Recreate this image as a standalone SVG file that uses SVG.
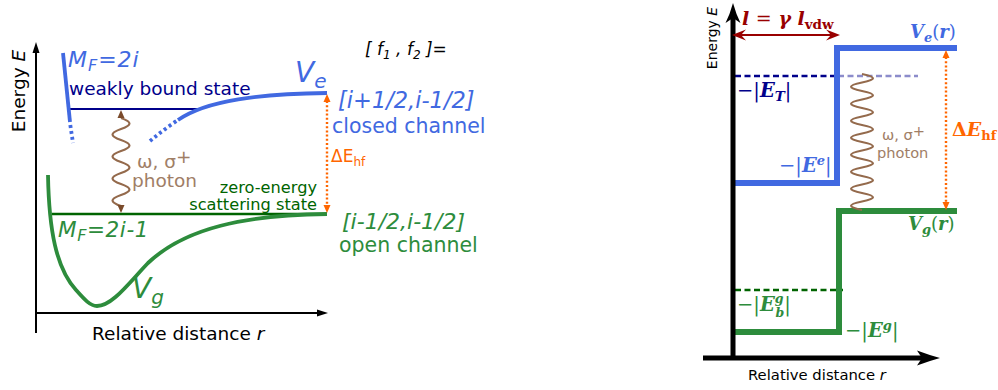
<svg xmlns="http://www.w3.org/2000/svg" width="998" height="390" viewBox="0 0 998 390">
<style>
.sans{font-family:"DejaVu Sans","Liberation Sans",sans-serif}
.serif{font-family:"DejaVu Serif","Liberation Serif",serif}
.it{font-style:italic}
.bi{font-style:italic;font-weight:bold}
.b{font-weight:bold}
.n{font-weight:normal;font-style:normal}
.royal{fill:#4169E1}
.navy{fill:#00008B}
.grn{fill:#2D8C3C}
.dgrn{fill:#006400}
.org{fill:#FF6600}
.brn{fill:#A07E66}
.dred{fill:#990000}
.line{fill:none;stroke-linecap:butt;stroke-linejoin:miter}
.dots{stroke-dasharray:3 3}
.dash{stroke-dasharray:6 3.5}
.odots{fill:none;stroke:#FF6600;stroke-width:2.4;stroke-dasharray:2 2.2}
.wave{fill:none;stroke:#946A4C;stroke-width:2.2}
</style>

<!-- LEFT PANEL -->
<g id="left-axes">
  <line x1="36" y1="333" x2="36" y2="50" stroke="#000" stroke-width="2"/>
  <polygon points="36,42 32.5,53 39.5,53" fill="#000"/>
  <line x1="35" y1="313" x2="320" y2="313" stroke="#000" stroke-width="2"/>
  <polygon points="328,313 317,309.5 317,316.5" fill="#000"/>
  <text class="sans" font-size="18.5" transform="translate(25,91) rotate(-90)" text-anchor="middle">Energy <tspan class="it">E</tspan></text>
  <text class="sans" font-size="18.5" x="92" y="340">Relative distance <tspan class="it">r</tspan></text>
</g>

<g id="weakly-bound-state">
  <line x1="70" y1="109" x2="202" y2="109" stroke="#00008B" stroke-width="2.2"/>
  <text class="sans navy" font-size="18.5" x="69" y="95">weakly bound state</text>
</g>

<g id="closed-channel-potential">
  <path class="line" d="M63,53 L70,122" stroke="#4169E1" stroke-width="3.8"/>
  <path class="line dots" d="M70.3,125 L73,143" stroke="#4169E1" stroke-width="3.8"/>
  <path class="line dots" d="M150,141 Q163,130 178,120" stroke="#4169E1" stroke-width="3.8"/>
  <path class="line" d="M178,120 C207,100 260,94 327,93" stroke="#4169E1" stroke-width="3.8"/>
  <text class="sans it royal" font-size="22" letter-spacing="1" x="68" y="67">M<tspan font-size="16" dy="4">F</tspan><tspan dy="-4">=2i</tspan></text>
  <text class="sans it royal" font-size="28" x="295" y="82">V<tspan font-size="20" dy="6">e</tspan></text>
</g>

<g id="open-channel-potential">
  <line x1="52" y1="214" x2="327" y2="214" stroke="#006400" stroke-width="2.6"/>
  <path class="line" d="M48,175 C49,230 56,268 76,290 C84,299 90,306 97,306 C112,306 128,284 148,263 C185,228 245,215 327,214" stroke="#2D8C3C" stroke-width="3.8"/>
  <text class="sans it grn" font-size="21.5" letter-spacing="0.6" x="58" y="237">M<tspan font-size="16" dy="4">F</tspan><tspan dy="-4">=2i-1</tspan></text>
  <text class="sans it grn" font-size="28" x="132" y="298">V<tspan font-size="20" dy="6">g</tspan></text>
  <text class="sans dgrn" font-size="16.2" x="317" y="192.5" text-anchor="end">zero-energy</text>
  <text class="sans dgrn" font-size="16.2" x="317" y="210" text-anchor="end">scattering state</text>
</g>

<g id="channel-labels">
  <text class="sans it" font-size="17" x="365" y="55">[ f<tspan font-size="12" dy="4">1</tspan><tspan dy="-4"> , f</tspan><tspan font-size="12" dy="4">2</tspan><tspan dy="-4"> ]=</tspan></text>
  <text class="sans it royal" font-size="22.5" x="338" y="108">[i+1/2,i-1/2]</text>
  <text class="sans royal" font-size="20.5" x="332" y="133">closed channel</text>
  <text class="sans it grn" font-size="22" x="342" y="229">[i-1/2,i-1/2]</text>
  <text class="sans grn" font-size="20.5" x="339" y="252">open channel</text>
  <text class="sans org" font-size="17" x="331" y="162">ΔE<tspan font-size="12" dy="4">hf</tspan></text>
  <text class="sans brn" font-size="18.5" x="137" y="168">ω, σ<tspan dy="-5">+</tspan></text>
  <text class="sans brn" font-size="18.5" x="132" y="187">photon</text>
</g>

<!-- RIGHT PANEL -->
<g id="right-levels">
  <line class="dash" x1="735" y1="76" x2="837" y2="76" stroke="#00008B" stroke-width="2.4"/>
  <line class="dash" x1="838" y1="76" x2="918" y2="76" stroke="#00008B" stroke-opacity="0.45" stroke-width="2.4"/>
  <line class="dash" x1="735" y1="290" x2="843" y2="290" stroke="#006400" stroke-width="2.4"/>
</g>

<g id="closed-step-potential">
  <polyline class="line" points="733,183 837,183 837,48 957,48" stroke="#4169E1" stroke-width="6"/>
  <text class="serif bi royal" font-size="18" x="910" y="38">V<tspan font-size="13" dy="4">e</tspan><tspan dy="-4" class="n">(</tspan>r<tspan class="n">)</tspan></text>
  <text class="serif bi royal" font-size="19.5" x="779" y="172"><tspan class="n">−|</tspan>E<tspan font-size="13" dy="-7">e</tspan><tspan dy="7" class="n">|</tspan></text>
</g>

<g id="open-step-potential">
  <polyline class="line" points="733,332 839,332 839,211 957,211" stroke="#2D8C3C" stroke-width="6"/>
  <text class="serif bi grn" font-size="18" x="908" y="230">V<tspan font-size="13" dy="4">g</tspan><tspan dy="-4" class="n">(</tspan>r<tspan class="n">)</tspan></text>
  <text class="serif bi grn" font-size="19.5" x="737" y="311"><tspan class="n">−|</tspan>E<tspan font-size="12.5" dy="-8">g</tspan><tspan font-size="12.5" dx="-8" dy="14">b</tspan><tspan dy="-6" class="n">|</tspan></text>
  <text class="serif bi grn" font-size="19.5" x="845" y="337"><tspan class="n">−|</tspan>E<tspan font-size="13" dy="-7">g</tspan><tspan dy="7" class="n">|</tspan></text>
</g>

<g id="threshold-label">
  <text class="serif bi navy" font-size="19.5" x="737" y="97"><tspan class="n">−|</tspan>E<tspan font-size="13.5" dy="4">T</tspan><tspan dy="-4" class="n">|</tspan></text>
</g>

<g id="right-axes">
  <line x1="733" y1="356" x2="733" y2="16" stroke="#000" stroke-width="5"/>
  <path d="M733,3 Q736,14 740.5,23 L733,18 L725.5,23 Q730,14 733,3 Z" fill="#000"/>
  <line x1="703" y1="358" x2="925" y2="358" stroke="#000" stroke-width="5"/>
  <path d="M940,358 Q929,361 917,365.5 L922,358 L917,350.5 Q929,355 940,358 Z" fill="#000"/>
  <text class="sans" font-size="14" transform="translate(717,38) rotate(-90)" text-anchor="middle">Energy <tspan class="it">E</tspan></text>
  <text class="sans" font-size="14.8" x="748" y="380">Relative distance <tspan class="it">r</tspan></text>
</g>

<g id="length-label">
  <text class="serif bi dred" font-size="19" x="742" y="25">l <tspan class="n">=</tspan> γ l<tspan font-size="13.5" dy="4" font-style="normal">vdw</tspan></text>
</g>

<g id="right-photon-label">
  <text class="sans brn" font-size="14.6" x="882" y="140">ω, σ<tspan dy="-4">+</tspan></text>
  <text class="sans brn" font-size="14.6" x="877" y="158">photon</text>
</g>

<g id="right-hyperfine-label">
  <text class="serif b org" font-size="19" x="952" y="136">Δ<tspan class="bi">E</tspan><tspan font-size="13" dy="4">hf</tspan></text>
</g>

<g id="connectors">
  <path class="wave" d="M121,118 c11.3,4 11.3,7 0,11 c-11.3,4 -11.3,7 0,11 c11.3,4 11.3,7 0,11 c-11.3,4 -11.3,7 0,11 c11.3,4 11.3,7 0,11 c-11.3,4 -11.3,7 0,11 c11.3,4 11.3,7 0,11 c-11.3,4 -11.3,7 0,11"/>
  <polygon points="121,110 117.5,118 124.5,118" fill="#7A4A2A"/>
  <polygon points="121,213 117.5,205 124.5,205" fill="#7A4A2A"/>
  <line class="odots" x1="327" y1="101" x2="327" y2="206"/>
  <polygon points="327,94 323.5,102 330.5,102" fill="#FF6600"/>
  <polygon points="327,213 323.5,205 330.5,205" fill="#FF6600"/>
  <path class="wave" d="M862,74 c14.6,3.06 14.6,5.44 0,8.5 c-14.6,3.06 -14.6,5.44 0,8.5 c14.6,3.06 14.6,5.44 0,8.5 c-14.6,3.06 -14.6,5.44 0,8.5 c14.6,3.06 14.6,5.44 0,8.5 c-14.6,3.06 -14.6,5.44 0,8.5 c14.6,3.06 14.6,5.44 0,8.5 c-14.6,3.06 -14.6,5.44 0,8.5 c14.6,3.06 14.6,5.44 0,8.5 c-14.6,3.06 -14.6,5.44 0,8.5 c14.6,3.06 14.6,5.44 0,8.5 c-14.6,3.06 -14.6,5.44 0,8.5 c14.6,3.06 14.6,5.44 0,8.5 c-14.6,3.06 -14.6,5.44 0,8.5 c14.6,3.06 14.6,5.44 0,8.5 c-14.6,3.06 -14.6,5.44 0,8.5"/>
  <line class="odots" x1="946" y1="57" x2="946" y2="203"/>
  <polygon points="946,50 942.5,58 949.5,58" fill="#FF6600"/>
  <polygon points="946,210 942.5,202 949.5,202" fill="#FF6600"/>
  <line x1="740" y1="35" x2="832" y2="35" stroke="#990000" stroke-width="2"/>
  <path d="M732,35 L746,29.5 L741,35 L746,40.5 Z" fill="#990000"/>
  <path d="M840,35 L826,29.5 L831,35 L826,40.5 Z" fill="#990000"/>
</g>
</svg>
